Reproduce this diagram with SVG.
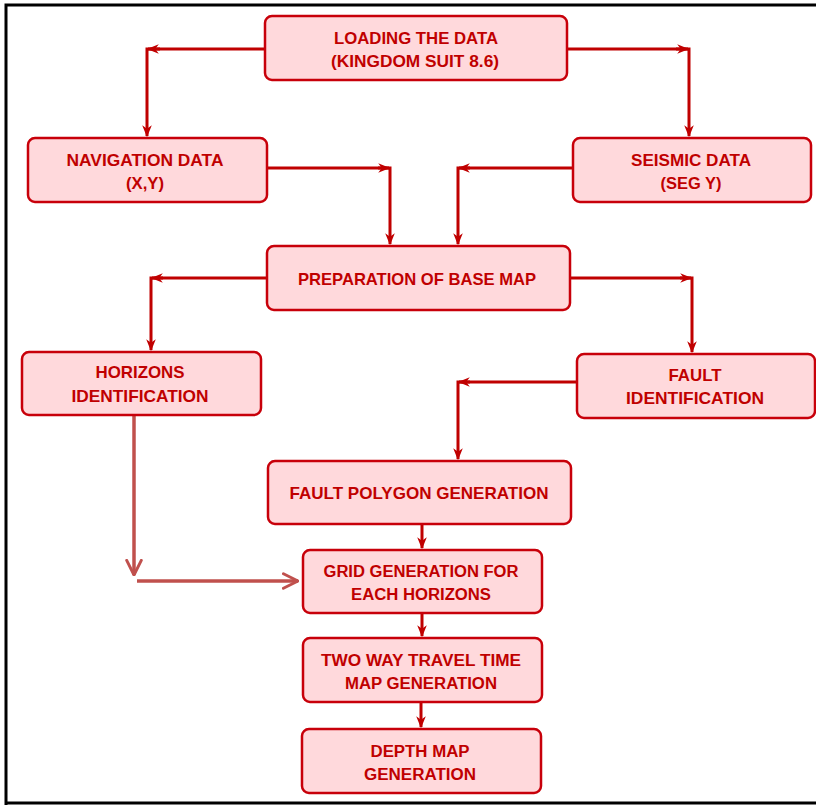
<svg xmlns="http://www.w3.org/2000/svg" width="816" height="805" viewBox="0 0 816 805">
  <defs>
    <marker id="tip" viewBox="0 0 10 10" refX="9" refY="5" markerWidth="4" markerHeight="4" orient="auto" markerUnits="strokeWidth">
      <path d="M0,1 L10,5 L0,9 L3,5 Z" fill="#c00000"/>
    </marker>
    <marker id="vee" viewBox="0 0 12 12" refX="11" refY="6" markerWidth="5" markerHeight="5" orient="auto" markerUnits="strokeWidth">
      <path d="M1,1 L11,6 L1,11" fill="none" stroke="#c0504d" stroke-width="2" stroke-linecap="round" stroke-linejoin="round"/>
    </marker>
  </defs>
  <style>
    .box { fill: #ffd9dc; stroke: #c8000a; stroke-width: 2.5; }
    .lbl { font-family: "Liberation Sans", Arial, sans-serif; font-weight: bold; font-size: 16px; fill: #c00000; text-anchor: middle; }
    .nar { font-size: 17px; }
    .wire { fill: none; stroke: #c00000; stroke-width: 3; stroke-linejoin: miter; }
    .tick { fill: none; stroke: #c00000; stroke-width: 3; }
    .orange { fill: none; stroke: #c0504d; stroke-width: 3.5; }
  </style>

  <rect x="0" y="0" width="816" height="805" fill="#ffffff"/>
  <!-- page frame -->
  <path d="M6,805 V5 H816" fill="none" stroke="#000000" stroke-width="3"/>
  <line x1="5" y1="803" x2="816" y2="803" stroke="#000000" stroke-width="3"/>

  <!-- connectors -->
  <g id="connectors">
    <!-- loading data to navigation / seismic -->
    <path class="wire" d="M265,49 H147 V136" marker-end="url(#tip)"/>
    <path class="tick" d="M160,49 H148" marker-end="url(#tip)"/>
    <path class="wire" d="M567,49 H689 V136" marker-end="url(#tip)"/>
    <path class="tick" d="M676,49 H688" marker-end="url(#tip)"/>
    <!-- navigation / seismic to base map -->
    <path class="wire" d="M267,168 H390 V244" marker-end="url(#tip)"/>
    <path class="tick" d="M378,168 H389" marker-end="url(#tip)"/>
    <path class="wire" d="M573,168 H458 V244" marker-end="url(#tip)"/>
    <path class="tick" d="M470,168 H459" marker-end="url(#tip)"/>
    <!-- base map to horizons / fault -->
    <path class="wire" d="M267,278 H151 V350" marker-end="url(#tip)"/>
    <path class="tick" d="M163,278 H152" marker-end="url(#tip)"/>
    <path class="wire" d="M570,278 H692 V352" marker-end="url(#tip)"/>
    <path class="tick" d="M680,278 H691" marker-end="url(#tip)"/>
    <!-- fault identification to polygon -->
    <path class="wire" d="M577,382 H458 V459" marker-end="url(#tip)"/>
    <path class="tick" d="M470,382 H459" marker-end="url(#tip)"/>
    <!-- vertical chain -->
    <path class="wire" d="M422,524 V548" marker-end="url(#tip)"/>
    <path class="wire" d="M422,613 V636" marker-end="url(#tip)"/>
    <path class="wire" d="M421,702 V727" marker-end="url(#tip)"/>
    <!-- horizons to grid -->
    <path class="orange" d="M134,416 V575" marker-end="url(#vee)"/>
    <path class="orange" d="M137,581 H298" marker-end="url(#vee)"/>
  </g>

  <g id="loading">
    <rect class="box" x="265" y="16" width="302" height="64" rx="7"/>
    <text class="lbl nar" x="416" y="44" textLength="164" lengthAdjust="spacingAndGlyphs">LOADING THE DATA</text>
    <text class="lbl nar" x="415" y="67" textLength="168" lengthAdjust="spacingAndGlyphs">(KINGDOM SUIT 8.6)</text>
  </g>

  <g id="navigation">
    <rect class="box" x="28" y="138" width="239" height="64" rx="7"/>
    <text class="lbl nar" x="145" y="166" textLength="157" lengthAdjust="spacingAndGlyphs">NAVIGATION DATA</text>
    <text class="lbl nar" x="145" y="189" textLength="38" lengthAdjust="spacingAndGlyphs">(X,Y)</text>
  </g>

  <g id="seismic">
    <rect class="box" x="573" y="138" width="238" height="64" rx="7"/>
    <text class="lbl nar" x="691" y="166" textLength="120" lengthAdjust="spacingAndGlyphs">SEISMIC DATA</text>
    <text class="lbl nar" x="691" y="189" textLength="61" lengthAdjust="spacingAndGlyphs">(SEG Y)</text>
  </g>

  <g id="basemap">
    <rect class="box" x="267" y="246" width="303" height="64" rx="7"/>
    <text class="lbl nar" x="417" y="285" textLength="238" lengthAdjust="spacingAndGlyphs">PREPARATION OF BASE MAP</text>
  </g>

  <g id="horizons">
    <rect class="box" x="22" y="352" width="239" height="63" rx="7"/>
    <text class="lbl nar" x="140" y="378" textLength="89" lengthAdjust="spacingAndGlyphs">HORIZONS</text>
    <text class="lbl nar" x="140" y="402" textLength="137" lengthAdjust="spacingAndGlyphs">IDENTIFICATION</text>
  </g>

  <g id="fault">
    <rect class="box" x="577" y="354" width="238" height="64" rx="7"/>
    <text class="lbl nar" x="695" y="381" textLength="53" lengthAdjust="spacingAndGlyphs">FAULT</text>
    <text class="lbl nar" x="695" y="404" textLength="138" lengthAdjust="spacingAndGlyphs">IDENTIFICATION</text>
  </g>

  <g id="polygon">
    <rect class="box" x="268" y="461" width="303" height="63" rx="7"/>
    <text class="lbl nar" x="419" y="499" textLength="259" lengthAdjust="spacingAndGlyphs">FAULT POLYGON GENERATION</text>
  </g>

  <g id="grid">
    <rect class="box" x="303" y="550" width="239" height="63" rx="7"/>
    <text class="lbl" x="421" y="577" textLength="195" lengthAdjust="spacingAndGlyphs">GRID GENERATION FOR</text>
    <text class="lbl" x="421" y="600" textLength="140" lengthAdjust="spacingAndGlyphs">EACH HORIZONS</text>
  </g>

  <g id="twt">
    <rect class="box" x="303" y="638" width="239" height="64" rx="7"/>
    <text class="lbl" x="421" y="666" textLength="200" lengthAdjust="spacingAndGlyphs">TWO WAY TRAVEL TIME</text>
    <text class="lbl" x="421" y="689" textLength="152" lengthAdjust="spacingAndGlyphs">MAP GENERATION</text>
  </g>

  <g id="depth">
    <rect class="box" x="302" y="729" width="239" height="64" rx="7"/>
    <text class="lbl" x="420" y="757" textLength="99" lengthAdjust="spacingAndGlyphs">DEPTH MAP</text>
    <text class="lbl" x="420" y="780" textLength="112" lengthAdjust="spacingAndGlyphs">GENERATION</text>
  </g>
</svg>
